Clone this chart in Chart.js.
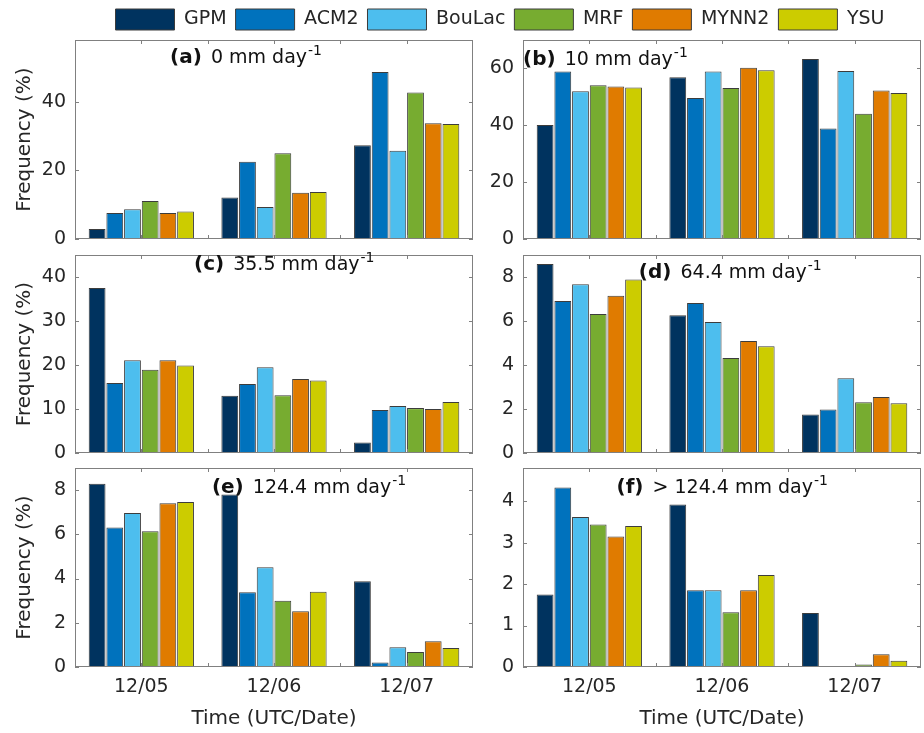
<!DOCTYPE html>
<html><head><meta charset="utf-8">
<script src="https://cdn.jsdelivr.net/npm/chart.js@4/dist/chart.umd.min.js"></script>
<style>
html,body{margin:0;padding:0;background:#fff;}
#wrap{position:relative;width:924px;height:733px;overflow:hidden;}
canvas{position:absolute;left:0;top:0;}
</style></head><body>
<div id="wrap"></div>
<script>
// ---------- data ----------
const categories = ['12/05', '12/06', '12/07'];
const seriesNames = ['GPM', 'ACM2', 'BouLac', 'MRF', 'MYNN2', 'YSU'];

// each row: one series (GPM, ACM2, BouLac, MRF, MYNN2, YSU), values per date
const valuesA = [[2.9, 12.1, 27.3], [7.6, 22.5, 48.7], [8.7, 9.3, 25.7], [11.1, 25.0, 42.7], [7.6, 13.5, 33.7], [8.0, 13.7, 33.5]];
const valuesB = [[40.1, 56.9, 63.3], [58.9, 49.6, 38.9], [52.0, 58.9, 59.1], [54.1, 53.1, 44.1], [53.6, 60.2, 52.2], [53.3, 59.4, 51.4]];
const valuesC = [[37.5, 13.0, 2.4], [15.9, 15.7, 9.8], [21.1, 19.5, 10.7], [18.9, 13.1, 10.2], [21.1, 16.8, 10.0], [19.9, 16.5, 11.6]];
const valuesD = [[8.59, 6.26, 1.75], [6.91, 6.82, 1.98], [7.67, 5.96, 3.40], [6.32, 4.32, 2.31], [7.15, 5.09, 2.55], [7.89, 4.85, 2.26]];
const valuesE = [[8.29, 7.80, 3.88], [6.31, 3.38, 0.20], [6.96, 4.51, 0.89], [6.14, 3.00, 0.68], [7.41, 2.52, 1.16], [7.46, 3.40, 0.86]];
const valuesF = [[1.75, 3.92, 1.30], [4.33, 1.85, 0.00], [3.62, 1.85, 0.01], [3.44, 1.32, 0.06], [3.15, 1.85, 0.31], [3.40, 2.22, 0.15]];
const panelValues = [valuesA, valuesB, valuesC, valuesD, valuesE, valuesF];

const yMaxes = [58, 70, 45, 9, 9, 4.8];
const yStepSizes = [20, 20, 10, 2, 2, 1];

const panelTags = ['(a)', '(b)', '(c)', '(d)', '(e)', '(f)'];
const panelThresholds = ['0 mm day', '10 mm day', '35.5 mm day', '64.4 mm day', '124.4 mm day', '> 124.4 mm day'];
const unitExponent = '-1';
const xTitle = 'Time (UTC/Date)';
const yTitle = 'Frequency (%)';

// ---------- styles / layout ----------
const seriesColors = ['#00335f', '#0072bd', '#4dbeee', '#77ac30', '#e07b00', '#cccc00'];
const FONT = '"DejaVu Sans", sans-serif';
const W = 924, H = 733;
const colLeft = [75, 523], colRight = [473, 921];
const rowTop = [40, 255, 468], rowBottom = [239, 453, 667];
const titleFrac = [[0.239, 0.118], [0.0, 0.126], [0.299, 0.078], [0.291, 0.116], [0.344, 0.124], [0.235, 0.126]];
const frameColor = '#808080';
const textColor = '#262626';

const wrap = document.getElementById('wrap');
function mkCanvas() {
  const c = document.createElement('canvas');
  c.width = W; c.height = H;
  c.style.width = W + 'px'; c.style.height = H + 'px';
  wrap.appendChild(c);
  return c;
}

const decor = {
  id: 'panelDecor',
  afterDraw(chart, args, o) {
    if (!o || !o.tag) return;
    const {ctx, chartArea: {left, top, right, bottom}} = chart;
    const xs = chart.scales.x, ys = chart.scales.y;
    ctx.save();
    ctx.strokeStyle = frameColor; ctx.lineWidth = 1;
    ctx.strokeRect(left + 0.5, top + 0.5, right - left - 1, bottom - top - 1);
    ctx.beginPath();
    const tl = 4;
    ys.ticks.forEach(t => {
      const py = Math.round(ys.getPixelForValue(t.value)) + 0.5;
      ctx.moveTo(left, py); ctx.lineTo(left + tl, py);
      ctx.moveTo(right, py); ctx.lineTo(right - tl, py);
    });
    const p0 = xs.getPixelForValue(0), p1 = xs.getPixelForValue(1);
    for (let k = 0; k <= (categories.length - 1) * 2; k++) {
      const px = Math.round(p0 + (p1 - p0) * k / 2) + 0.5;
      ctx.moveTo(px, top); ctx.lineTo(px, top + tl);
      ctx.moveTo(px, bottom); ctx.lineTo(px, bottom - tl);
    }
    ctx.stroke();
    // panel title
    const tx = left + o.fx * (right - left), ty = top + o.fy * (bottom - top);
    ctx.fillStyle = '#111'; ctx.textBaseline = 'alphabetic'; ctx.textAlign = 'left';
    ctx.font = 'bold 20px ' + FONT;
    ctx.fillText(o.tag, tx, ty);
    let w = ctx.measureText(o.tag).width + 3;
    ctx.font = '19px ' + FONT;
    const s = ' ' + o.text;
    ctx.fillText(s, tx + w, ty);
    w += ctx.measureText(s).width;
    ctx.font = '14px ' + FONT;
    ctx.fillText(o.sup, tx + w + 1, ty - 8);
    ctx.restore();
  }
};

// legend chart
new Chart(mkCanvas(), {
  type: 'bar',
  data: {labels: [], datasets: seriesNames.map((n, k) => ({label: n, data: [], backgroundColor: seriesColors[k], borderColor: '#3c3c3c', borderWidth: 1}))},
  options: {
    responsive: false, animation: false, devicePixelRatio: 1,
    layout: {padding: {top: 0, left: 76, right: 0}},
    scales: {x: {display: false}, y: {display: false}},
    plugins: {
      tooltip: {enabled: false},
      legend: {display: true, position: 'top',
        labels: {boxWidth: 59, boxHeight: 21, padding: 9, color: textColor, font: {family: FONT, size: 19}}}
    }
  }
});

panelValues.forEach((vals, i) => {
  const r = Math.floor(i / 2), c = i % 2;
  new Chart(mkCanvas(), {
    type: 'bar',
    data: {
      labels: categories,
      datasets: seriesNames.map((n, k) => ({
        label: n, data: vals[k], backgroundColor: seriesColors[k],
        borderColor: '#3c3c3c', borderWidth: 1, borderSkipped: false,
        categoryPercentage: 0.8, barPercentage: 0.95
      }))
    },
    options: {
      responsive: false, animation: false, devicePixelRatio: 1,
      layout: {padding: {left: 0, top: rowTop[r], right: W - colRight[c], bottom: 0}},
      plugins: {
        legend: {display: false}, tooltip: {enabled: false},
        panelDecor: {tag: panelTags[i], text: panelThresholds[i], sup: unitExponent, fx: titleFrac[i][0], fy: titleFrac[i][1]}
      },
      scales: {
        x: {
          type: 'category', offset: true,
          grid: {display: false, drawTicks: false}, border: {display: false},
          ticks: {display: r === 2, padding: 9, color: textColor, font: {family: FONT, size: 19}, maxRotation: 0, autoSkip: false},
          title: {display: r === 2, text: xTitle, color: textColor, font: {family: FONT, size: 20}, padding: {top: 0, bottom: 2}},
          afterFit: s => { s.height = H - rowBottom[r]; }
        },
        y: {
          min: 0, max: yMaxes[i],
          grid: {display: false, drawTicks: false}, border: {display: false},
          ticks: {stepSize: yStepSizes[i], includeBounds: false, padding: 9, color: textColor, font: {family: FONT, size: 19}},
          title: {display: c === 0, text: yTitle, color: textColor, font: {family: FONT, size: 20}, padding: {top: 13, bottom: 0}},
          afterFit: s => { s.width = colLeft[c]; }
        }
      }
    },
    plugins: [decor]
  });
});
</script>
</body></html>
